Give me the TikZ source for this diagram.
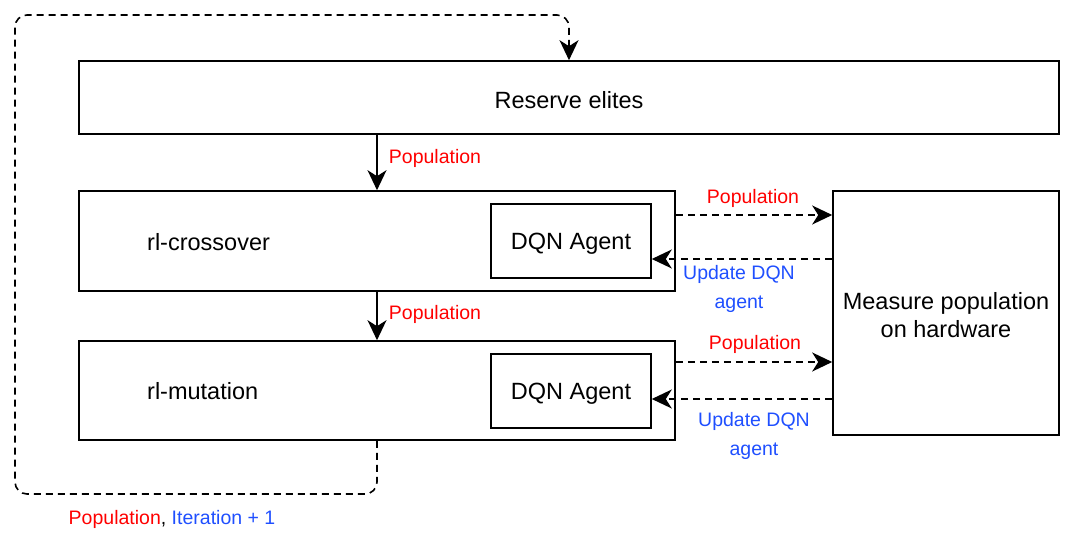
\documentclass[tikz,border=0pt]{standalone}
\usepackage{fontspec}
\setmainfont{Liberation Sans}
\usetikzlibrary{arrows.meta}
\definecolor{lblred}{HTML}{FF0000}
\definecolor{lblblue}{HTML}{1F4FFF}
\tikzset{
  box/.style={draw, line width=1.6pt, minimum width=#1, inner sep=0pt, font=\fontsize{23.5}{28}\selectfont},
  txt/.style={inner sep=0pt, text depth=0pt, font=\fontsize{23.5}{28}\selectfont},
  lbl/.style={font=\fontsize{19.5}{29}\selectfont, align=center, inner sep=0pt},
  flow/.style={line width=1.6pt, -{Stealth[length=20pt,width=19pt,inset=6pt]}},
  dflow/.style={flow, dash pattern=on 7pt off 5pt},
}
\begin{document}
\begin{tikzpicture}[x=1pt,y=-1pt]
\useasboundingbox (0,0) rectangle (1088,538);
\node[box=980pt, minimum height=73pt] (res) at (569,97.5) {};
\node[txt] (tres) at (569,100) {Reserve elites};
\node[box=596pt, minimum height=100pt] (cross) at (377,241) {};
\node[box=596pt, minimum height=99pt] (mut) at (377,390.5) {};
\node[box=160pt, minimum height=74pt, text depth=0pt] (dqn1) at (571,241) {DQN Agent};
\node[box=160pt, minimum height=74pt, text depth=0pt] (dqn2) at (571,391) {DQN Agent};
\node[box=226pt, minimum height=244pt] (meas) at (946,313) {};
\node[align=center, inner sep=0pt, font=\fontsize{23.5}{28}\selectfont] (tmeas) at (946,315) {Measure population\\on hardware};
\node[txt, anchor=west] (tcross) at (147,242) {rl-crossover};
\node[txt, anchor=west] (tmut) at (147,391) {rl-mutation};

\draw[flow] (cross.north |- res.south) -- (cross.north);
\draw[flow] (cross.south) -- (mut.north);
\node[lbl, text=lblred] (p1) at (435,158) {Population};
\node[lbl, text=lblred] (p2) at (435,314) {Population};

\draw[dflow] ([yshift=26pt]cross.east) -- ([yshift=26pt]cross.east -| meas.west);
\draw[dflow] ([yshift=-18pt]dqn1.east -| meas.west) -- ([yshift=-18pt]dqn1.east);
\draw[dflow] ([yshift=28.5pt]mut.east) -- ([yshift=28.5pt]mut.east -| meas.west);
\draw[dflow] ([yshift=-8pt]dqn2.east -| meas.west) -- ([yshift=-8pt]dqn2.east);
\node[lbl, text=lblred] (p3) at (753,198) {Population};
\node[lbl, text=lblblue] (u1) at (739,289) {Update DQN\\agent};
\node[lbl, text=lblred] (p4) at (755,344) {Population};
\node[lbl, text=lblblue] (u2) at (754,436) {Update DQN\\agent};

\coordinate (bl) at (15,494);
\coordinate (tl) at (15,15);
\draw[dflow, rounded corners=12pt] (mut.south) -- (mut.south |- bl) -- (bl) -- (tl) -- (res.north |- tl) -- (res.north);
\node[lbl] (loop) at (172,519) {\textcolor{lblred}{Population}, \textcolor{lblblue}{Iteration + 1}};
\end{tikzpicture}
\end{document}
